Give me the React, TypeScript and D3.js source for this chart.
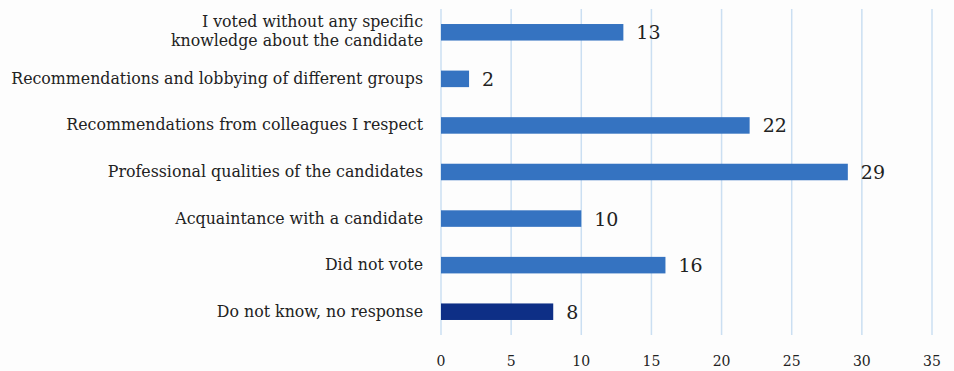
import React from "react";
import * as d3 from "d3";

const categories: string[][] = [
  ["I voted without any specific", "knowledge about the candidate"],
  ["Recommendations and lobbying of different groups"],
  ["Recommendations from colleagues I respect"],
  ["Professional qualities of the candidates"],
  ["Acquaintance with a candidate"],
  ["Did not vote"],
  ["Do not know, no response"],
];
const values: number[] = [13, 2, 22, 29, 10, 16, 8];
const highlight: boolean[] = [false, false, false, false, false, false, true];
const ticks: number[] = [0, 5, 10, 15, 20, 25, 30, 35];

const W = 954;
const H = 371;
const FONT = "'DejaVu Serif', 'Liberation Serif', serif";
const LINE = 18.6;

export default function App() {
  const x = d3.scaleLinear().domain([0, 35]).range([441, 932]);
  const y = d3
    .scaleBand<number>()
    .domain(values.map((_, i) => i))
    .range([9, 335])
    .paddingInner(0.645)
    .paddingOuter(0.3225);

  return (
    <div style={{ position: "fixed", left: 0, top: 0 }}>
      <svg width={W} height={H} style={{ display: "block", background: "#fdfdfd" }}>
        {ticks.map((t) => (
          <line
            key={"g" + t}
            x1={x(t)}
            x2={x(t)}
            y1={9}
            y2={335}
            stroke="#cbdff2"
            strokeWidth={1.5}
          />
        ))}
        {values.map((v, i) => {
          const yc = (y(i) as number) + y.bandwidth() / 2;
          const n = categories[i].length;
          return (
            <g key={"b" + i}>
              <rect
                x={x(0)}
                y={y(i)}
                width={x(v) - x(0)}
                height={y.bandwidth()}
                fill={highlight[i] ? "#0e2f86" : "#3573c1"}
              />
              <text
                x={x(v) + 13}
                y={yc + 7}
                fontFamily={FONT}
                fontSize={19}
                fill="#222"
              >
                {v}
              </text>
              {categories[i].map((line, j) => (
                <text
                  key={j}
                  x={423}
                  y={yc + 5 - ((n - 1) * LINE) / 2 + j * LINE - (n > 1 ? 1 : 0)}
                  textAnchor="end"
                  fontFamily={FONT}
                  fontSize={15.8}
                  fill="#222"
                >
                  {line}
                </text>
              ))}
            </g>
          );
        })}
        {ticks.map((t) => (
          <text
            key={"t" + t}
            x={x(t)}
            y={366}
            textAnchor="middle"
            fontFamily={FONT}
            fontSize={14}
            fill="#222"
          >
            {t}
          </text>
        ))}
      </svg>
    </div>
  );
}
